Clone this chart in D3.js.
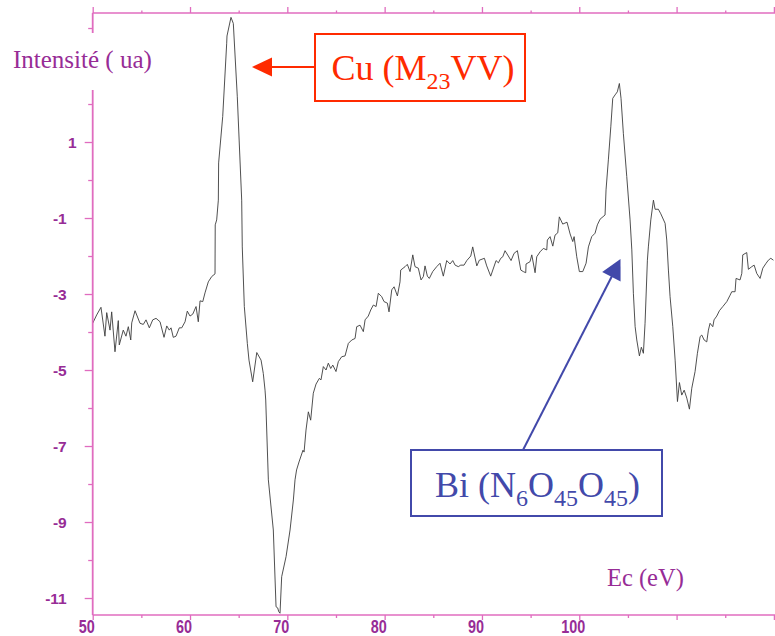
<!DOCTYPE html>
<html>
<head>
<meta charset="utf-8">
<script src="https://cdn.jsdelivr.net/npm/d3@7"></script>
<style>
  html, body { margin: 0; padding: 0; background: #ffffff; }
  svg { display: block; }
</style>
</head>
<body>
<svg id="chart" width="775" height="636"></svg>
<script>
// ---- Data ----
const energy = [50.00,50.41,50.85,51.26,51.44,51.78,51.95,52.29,52.63,52.73,53.14,53.42,53.66,53.91,54.01,54.35,54.86,55.20,55.48,55.82,56.17,56.51,56.92,57.33,57.61,57.87,58.05,58.28,58.56,58.90,59.15,59.49,59.72,60.00,60.28,60.62,60.85,61.03,61.31,61.54,61.88,62.23,62.57,62.59,62.74,62.91,62.94,63.36,63.77,63.80,64.21,64.45,64.86,65.31,65.37,65.58,65.89,66.06,66.44,66.86,67.30,67.53,67.71,67.78,68.05,68.56,68.84,69.01,69.12,69.25,69.42,69.87,70.28,70.62,70.79,70.95,71.20,71.61,71.72,71.92,72.16,72.40,72.67,72.95,73.29,73.46,73.70,73.98,74.21,74.46,74.67,75.00,75.24,75.59,75.93,76.27,76.62,76.96,77.13,77.47,77.81,77.99,78.32,78.57,78.84,79.12,79.35,79.70,79.94,80.28,80.45,80.73,80.97,81.31,81.58,81.65,82.10,82.33,82.61,82.89,83.12,83.46,83.74,83.98,84.15,84.39,84.59,84.94,85.35,85.69,86.03,86.38,86.72,87.00,87.24,87.57,87.82,88.16,88.44,88.85,89.05,89.47,89.73,90.25,90.49,90.90,91.45,91.69,91.93,92.14,92.37,92.71,92.99,93.30,93.64,93.99,94.25,94.50,94.53,94.94,95.12,95.46,95.63,95.97,96.31,96.66,96.72,97.00,97.28,97.51,97.79,97.95,98.30,98.74,99.06,99.33,99.47,99.74,100.01,100.36,100.70,100.94,101.28,101.62,101.86,102.14,102.65,102.75,102.99,103.24,103.44,103.68,103.91,104.12,104.29,104.53,104.88,105.22,105.40,105.56,105.74,105.91,106.18,106.38,106.59,106.76,107.00,107.10,107.35,107.62,107.79,108.13,108.38,108.82,108.99,109.16,109.33,109.61,109.85,110.09,110.29,110.53,110.78,111.05,111.32,111.56,111.90,112.14,112.42,112.59,112.83,113.10,113.27,113.44,113.72,113.85,114.13,114.40,114.75,115.16,115.50,115.67,116.01,116.11,116.52,116.70,116.80,117.21,117.38,117.73,117.97,118.24,118.58,118.86,119.20,119.43,119.68,119.95];
const intensity = [-3.77,-3.55,-3.35,-4.11,-3.49,-3.95,-3.47,-4.52,-3.70,-4.34,-3.95,-4.11,-3.86,-4.21,-3.76,-3.44,-3.77,-3.80,-3.68,-3.89,-3.68,-3.64,-3.73,-4.14,-3.84,-3.95,-3.89,-4.14,-4.11,-3.89,-3.89,-3.73,-3.45,-3.58,-3.53,-3.33,-3.73,-3.18,-3.20,-2.97,-2.68,-2.54,-2.47,-1.18,-1.05,-0.53,0.45,1.67,3.60,3.79,4.28,4.12,2.19,-0.53,-1.76,-3.33,-4.30,-4.74,-5.31,-4.54,-4.74,-5.09,-5.53,-5.79,-7.89,-9.21,-11.23,-11.26,-11.36,-11.40,-10.44,-9.91,-9.21,-8.42,-7.89,-7.63,-7.42,-7.11,-7.16,-6.58,-6.10,-6.32,-5.61,-5.37,-5.22,-5.26,-4.91,-5.00,-4.82,-4.96,-4.87,-5.04,-4.78,-4.65,-4.63,-4.30,-4.21,-4.17,-3.86,-3.82,-3.99,-3.68,-3.58,-3.42,-3.29,-3.33,-2.98,-3.07,-3.20,-3.24,-3.47,-2.89,-2.81,-3.05,-2.68,-2.37,-2.28,-2.22,-2.41,-1.97,-2.28,-2.32,-2.63,-2.54,-2.26,-2.53,-2.59,-2.41,-2.28,-2.19,-2.53,-2.12,-2.21,-2.12,-2.24,-2.28,-2.24,-2.24,-2.12,-2.00,-1.76,-2.26,-2.11,-2.06,-2.26,-2.53,-2.12,-2.18,-2.06,-2.02,-1.86,-2.00,-2.12,-1.93,-1.86,-2.37,-2.41,-2.44,-2.21,-2.15,-1.97,-2.44,-2.02,-1.89,-1.80,-1.84,-1.58,-1.49,-1.74,-1.45,-1.39,-0.97,-1.16,-1.11,-1.42,-1.62,-1.49,-2.02,-2.41,-2.41,-2.19,-1.76,-1.49,-1.40,-1.18,-1.03,-0.92,-0.26,0.53,1.40,2.15,2.24,2.32,2.54,2.15,1.23,0.09,-1.05,-1.84,-2.98,-3.86,-4.21,-4.63,-4.40,-4.56,-3.77,-2.11,-1.76,-1.05,-0.53,-0.77,-0.77,-0.89,-1.14,-1.58,-2.37,-3.07,-3.86,-4.74,-5.83,-5.33,-5.66,-5.53,-5.74,-6.03,-5.48,-5.04,-4.56,-4.12,-4.08,-4.21,-4.26,-3.95,-3.77,-3.86,-3.68,-3.58,-3.44,-3.33,-3.20,-3.03,-2.94,-2.94,-2.59,-2.63,-2.46,-1.97,-1.91,-2.35,-2.28,-2.24,-2.46,-2.59,-2.32,-2.19,-2.11,-2.06,-2.11];

const xMajorTicks = [50,60,70,80,90,100,110,120];
const xMinorTicks = [55,65,75,85,95,105,115];
const xTickLabels = [50,60,70,80,90,100];
const yMajorTicks = [-11,-9,-7,-5,-3,-1,1,3];
const yMinorTicks = [-10,-8,-6,-4,-2,0,2,4];
const yTickLabels = [1,-1,-3,-5,-7,-9,-11];

const yTitle = "Intensité ( ua)";
const xTitle = "Ec (eV)";

// ---- Setup ----
const W = 775, H = 636;
const svg = d3.select("#chart");
const axisColor = "#e06cbf";
const labelColor = "#972c96";
const serif = "'Liberation Serif', 'Times New Roman', serif";
const sans = "'Liberation Sans', Arial, sans-serif";

const x = d3.scaleLinear().domain([50, 120]).range([92.7, 773.9]);
const y = d3.scaleLinear().domain([-11.447, 4.395]).range([615, 13]);
const x0 = x(50), yTop = y(4.395), yBot = y(-11.447);

// ---- Curve ----
const pts = energy.map((e, i) => [e, intensity[i]]);
const line = d3.line().x(d => x(d[0])).y(d => y(d[1]));
svg.append("path")
  .datum(pts)
  .attr("d", line)
  .attr("fill", "none")
  .attr("stroke", "#3c3c3c")
  .attr("stroke-width", 0.9)
  .attr("stroke-linejoin", "round");

// ---- Axes ----
function styleAxis(g) {
  g.select(".domain").remove();
  g.selectAll(".tick line").attr("stroke", axisColor).attr("stroke-width", 1.3);
  g.selectAll(".tick text").remove();
}

// bottom
svg.append("g").attr("transform", `translate(0,${yBot})`)
  .call(d3.axisBottom(x).tickValues(xMajorTicks).tickSize(5).tickSizeOuter(0)).call(styleAxis);
svg.append("g").attr("transform", `translate(0,${yBot})`)
  .call(d3.axisBottom(x).tickValues(xMinorTicks).tickSize(3).tickSizeOuter(0)).call(styleAxis);
// top
svg.append("g").attr("transform", `translate(0,${yTop})`)
  .call(d3.axisTop(x).tickValues(xMajorTicks).tickSize(6).tickSizeOuter(0)).call(styleAxis);
svg.append("g").attr("transform", `translate(0,${yTop})`)
  .call(d3.axisTop(x).tickValues(xMinorTicks).tickSize(2.5).tickSizeOuter(0)).call(styleAxis);
// left
svg.append("g").attr("transform", `translate(${x0},0)`)
  .call(d3.axisLeft(y).tickValues(yMajorTicks).tickSize(8).tickSizeOuter(0)).call(styleAxis);
svg.append("g").attr("transform", `translate(${x0},0)`)
  .call(d3.axisLeft(y).tickValues(yMinorTicks).tickSize(4.5).tickSizeOuter(0)).call(styleAxis);

// axis lines
svg.append("line").attr("x1", x0).attr("x2", W).attr("y1", yBot).attr("y2", yBot)
  .attr("stroke", axisColor).attr("stroke-width", 1.6);
svg.append("line").attr("x1", x0).attr("x2", W).attr("y1", yTop).attr("y2", yTop)
  .attr("stroke", axisColor).attr("stroke-width", 1.4);
svg.append("line").attr("x1", x0).attr("x2", x0).attr("y1", yTop).attr("y2", yBot)
  .attr("stroke", axisColor).attr("stroke-width", 1.8);

// x tick labels (condensed bold)
svg.append("g").selectAll("text").data(xTickLabels).join("text")
  .attr("x", d => x(d) - 6)
  .attr("y", 633)
  .attr("text-anchor", "middle")
  .attr("font-family", sans)
  .attr("font-weight", "bold")
  .attr("font-size", 18)
  .attr("fill", labelColor)
  .text(d => d)
  .each(function() {
    const len = this.getComputedTextLength();
    d3.select(this).attr("textLength", len * 0.8).attr("lengthAdjust", "spacingAndGlyphs");
  });

// y tick labels
svg.append("g").selectAll("text").data(yTickLabels).join("text")
  .attr("x", d => d > 0 ? x0 - 16 : x0 - 26)
  .attr("y", d => y(d) + 5.5)
  .attr("text-anchor", "end")
  .attr("font-family", sans)
  .attr("font-weight", "bold")
  .attr("font-size", 15.5)
  .attr("fill", labelColor)
  .text(d => d);

// ---- Axis titles ----
svg.append("rect").attr("x", 6).attr("y", 33).attr("width", 152).attr("height", 57).attr("fill", "#fff");
svg.append("text").attr("x", 13).attr("y", 68)
  .attr("font-family", serif).attr("font-size", 25).attr("fill", labelColor)
  .text(yTitle);
svg.append("text").attr("x", 607).attr("y", 586)
  .attr("font-family", serif).attr("font-size", 24.5).attr("fill", labelColor)
  .text(xTitle);

// ---- Annotations ----
const red = "#ff2a00", blue = "#4249aa";

// Cu box + arrow
svg.append("rect").attr("x", 315).attr("y", 34).attr("width", 210).attr("height", 67)
  .attr("fill", "#fff").attr("stroke", red).attr("stroke-width", 2);
svg.append("line").attr("x1", 315).attr("y1", 67).attr("x2", 270).attr("y2", 67)
  .attr("stroke", red).attr("stroke-width", 2.2);
svg.append("polygon").attr("points", "252,67 272,57.5 272,76.5").attr("fill", red);
const cu = svg.append("text").attr("x", 423).attr("y", 80).attr("text-anchor", "middle")
  .attr("font-family", serif).attr("font-size", 36).attr("fill", red);
cu.append("tspan").text("Cu (M");
cu.append("tspan").attr("font-size", 24).attr("dy", 9).text("23");
cu.append("tspan").attr("dy", -9).text("VV)");

// Bi box + arrow
svg.append("rect").attr("x", 411).attr("y", 450).attr("width", 251).attr("height", 66)
  .attr("fill", "#fff").attr("stroke", blue).attr("stroke-width", 2);
svg.append("line").attr("x1", 523).attr("y1", 450).attr("x2", 612).attr("y2", 276)
  .attr("stroke", blue).attr("stroke-width", 2);
svg.append("polygon").attr("points", "620.5,259 602.2,272.1 620.6,281.5").attr("fill", blue);
const bi = svg.append("text").attr("x", 537.5).attr("y", 497).attr("text-anchor", "middle")
  .attr("font-family", serif).attr("font-size", 36).attr("fill", blue);
bi.append("tspan").text("Bi (N");
bi.append("tspan").attr("font-size", 24).attr("dy", 9).text("6");
bi.append("tspan").attr("dy", -9).text("O");
bi.append("tspan").attr("font-size", 24).attr("dy", 9).text("45");
bi.append("tspan").attr("dy", -9).text("O");
bi.append("tspan").attr("font-size", 24).attr("dy", 9).text("45");
bi.append("tspan").attr("dy", -9).text(")");
</script>
</body>
</html>
